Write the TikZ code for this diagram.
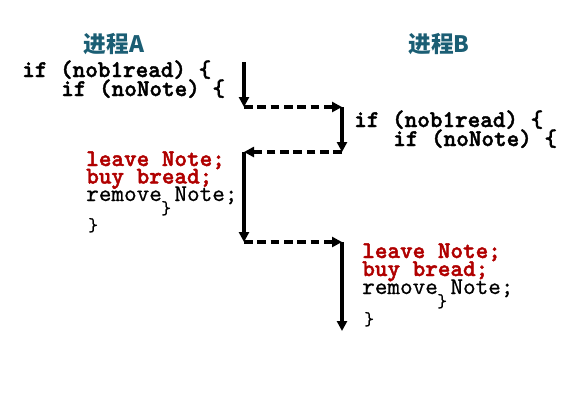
\documentclass[tikz,border=0pt]{standalone}
\usepackage{fontspec}
\setmainfont{Liberation Sans}
\newfontfamily\cjk{Noto Sans CJK SC}
\newfontfamily\heavycode{lmmonolt10-bold}[Extension=.otf,FakeBold=1.8]
\newfontfamily\thincode{lmmono10-regular}[Extension=.otf,FakeBold=0.6]
\usepackage{tikz}
\usetikzlibrary{arrows.meta}
\definecolor{titleblue}{RGB}{27,94,116}
\definecolor{notered}{RGB}{176,0,0}

\begin{document}
\begin{tikzpicture}[x=0.75pt,y=-0.75pt,
  every node/.style={inner sep=0pt,anchor=base west},
  code/.style={font=\heavycode\fontsize{18}{18}\selectfont,text height=0.6em,text depth=0.1em},
  plaincode/.style={font=\thincode\fontsize{18}{18}\selectfont,text height=0.6em,text depth=0.1em},
  brace/.style={font=\thincode\fontsize{14}{14}\selectfont,text height=0.5em,text depth=0.1em},
  act/.style={code,text=notered},
  title/.style={anchor=center,font=\cjk\bfseries\fontsize{17}{17}\selectfont,text=titleblue},
  run/.style={line width=2.3pt,-{Triangle[length=7.5pt,width=7.5pt]}},
  hand/.style={run,dash pattern=on 6.5pt off 3.5pt}]
  \useasboundingbox (0,0) rectangle (568,401);
  % titles
  \node[title] (titleA) at (114,44) {进程A};
  \node[title] (titleB) at (439,44) {进程B};
  % process A, checks
  \node[code] (checkA1) at (22,77) {if (nob1read) \{};
  \node[code] (checkA2) at (61,96) {if (noNote) \{};
  % process B, checks
  \node[code] (checkB1) at (354,127) {if (nob1read) \{};
  \node[code] (checkB2) at (393,146) {if (noNote) \{};
  % process A, body
  \node[act] (leaveA) at (86,166) {leave Note;};
  \node[act] (buyA) at (86,183.5) {buy bread;};
  \node[plaincode] (removeA) at (86,201) {remove Note;};
  \node[brace] (innerA) at (161,214) {\}};
  \node[brace] (outerA) at (88,231) {\}};
  % process B, body
  \node[act] (leaveB) at (362,258) {leave Note;};
  \node[act] (buyB) at (362,276) {buy bread;};
  \node[plaincode] (removeB) at (362,294) {remove Note;};
  \node[brace] (innerB) at (437,307) {\}};
  \node[brace] (outerB) at (364,325) {\}};
  % switches between the two processes
  \coordinate (s0) at (244,62);
  \coordinate (s1) at (244,107);
  \coordinate (s2) at (342,107);
  \coordinate (s3) at (342,152);
  \coordinate (s4) at (244,152);
  \coordinate (s5) at (244,242);
  \coordinate (s6) at (342,242);
  \coordinate (s7) at (342,331);
  \draw[run] (s0) -- (s1);
  \draw[hand] (s1) -- (s2);
  \draw[run] (s2) -- (s3);
  \draw[hand] (s3) -- (s4);
  \draw[run] (s4) -- (s5);
  \draw[hand] (s5) -- (s6);
  \draw[run] (s6) -- (s7);
\end{tikzpicture}
\end{document}
